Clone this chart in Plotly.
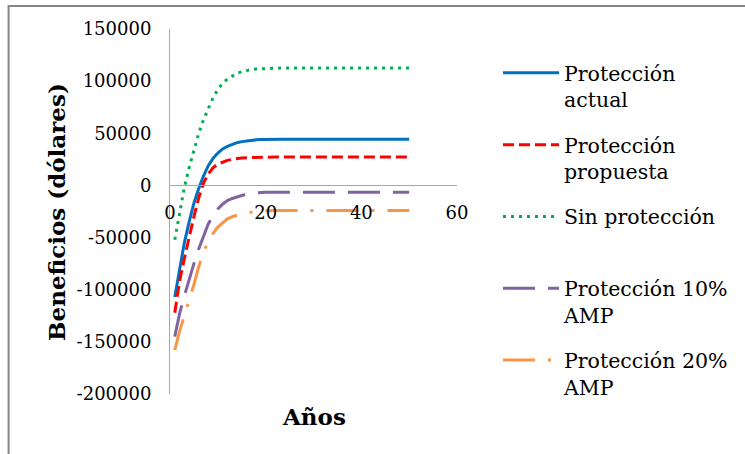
import plotly.graph_objects as go

years = list(range(1, 51))

actual = [-107000, -80000, -55000, -35000, -17000, -3000, 9000, 19000, 26000, 31000,
          35000, 37500, 39500, 41000, 42000, 42800, 43300, 43700, 44000, 44200] + [44300] * 30
propuesta = [-122000, -92000, -70000, -49000, -30000, -12000, 2000, 11000, 17000, 20500,
             22500, 24000, 25000, 25800, 26300, 26600, 26800, 27000, 27100, 27200] + [27200] * 30
sin_prot = [-52000, -25000, -2000, 17000, 33000, 50000, 63000, 74000, 84000, 92000,
            98000, 102000, 105000, 107500, 109000, 110300, 111000, 111700, 112000, 112300] + [112500] * 30
amp10 = [-145000, -123000, -106000, -90000, -75000, -61000, -48000, -37000, -29000, -22500,
         -18000, -14500, -12500, -11000, -9500, -8300, -7500, -7000, -6700, -6500] + [-6500] * 30
amp20 = [-158000, -140000, -125000, -111000, -95000, -78000, -64000, -54000, -46000, -40000,
         -35500, -32000, -30000, -28500, -27200, -26300, -25600, -25000, -24600, -24300] + [-24000] * 30

names = ["Protección<br>actual", "Protección<br>propuesta", "Sin protección<br> ",
         "Protección 10%<br>AMP", "Protección 20%<br>AMP"]
series = [actual, propuesta, sin_prot, amp10, amp20]
colors = ["#0070C0", "#FF0000", "#00B050", "#8064A2", "#F79646"]
dashes = ["solid", "11px,5px", "3px,5px", "32px,13px", "32px,13px,3px,13px"]

x_ticks = [0, 20, 40, 60]
y_ticks = [-200000, -150000, -100000, -50000, 0, 50000, 100000, 150000]

FONT = "DejaVu Serif"

fig = go.Figure()
for i, (nm, ys, c, d) in enumerate(zip(names, series, colors, dashes)):
    fig.add_trace(go.Scatter(x=years, y=ys, mode="lines", name=nm, legendgroup=str(i),
                             line=dict(color=c, width=3, dash=d)))

W, H = 745, 454
ml, mr, mt, mb = 170, 287, 29, 60
pw, ph = W - ml - mr, H - mt - mb
ymin, ymax = -200000, 150000
zero_frac = (0 - ymin) / (ymax - ymin)


def px_x(v):
    return (v - ml) / pw


def px_y(v):
    return (H - mb - v) / ph


fig.update_layout(
    width=W, height=H,
    margin=dict(l=ml, r=mr, t=mt, b=mb),
    paper_bgcolor="white", plot_bgcolor="white",
    font=dict(family=FONT, color="black"),
    showlegend=True,
    legend=dict(x=px_x(498), xanchor="left", y=px_y(53), yanchor="top",
                font=dict(family=FONT, size=20.5, color="black"),
                traceorder="grouped", tracegroupgap=15.5, valign="top", itemwidth=56,
                bgcolor="rgba(0,0,0,0)"),
    xaxis=dict(range=[0, 60], tickvals=x_ticks, ticktext=[str(v) for v in x_ticks],
               showgrid=False, zeroline=False, showline=True, linecolor="#A6A6A6", linewidth=1,
               anchor="free", position=zero_frac, ticks="", ticklabelstandoff=11,
               tickfont=dict(family=FONT, size=18, color="black")),
    yaxis=dict(range=[ymin, ymax], tickvals=y_ticks, ticktext=[str(v) for v in y_ticks],
               showgrid=False, zeroline=False, showline=True, linecolor="#A6A6A6", linewidth=1,
               ticks="", ticklabelstandoff=14,
               tickfont=dict(family=FONT, size=18, color="black")),
    shapes=[
        dict(type="rect", xref="paper", yref="paper",
             x0=px_x(8), x1=px_x(W + 10), y0=px_y(6), y1=px_y(H + 10),
             line=dict(color="#868686", width=2), fillcolor="rgba(0,0,0,0)", layer="below"),
    ],
    annotations=[
        dict(text="<b>Años</b>", xref="paper", yref="paper", x=px_x(315),
             y=px_y(416), xanchor="center", yanchor="middle", showarrow=False,
             font=dict(family=FONT, size=23, color="black")),
        dict(text="<b>Beneficios (dólares)</b>", xref="paper", yref="paper", x=px_x(56),
             y=0.5, xanchor="center", yanchor="middle", textangle=-90, showarrow=False,
             font=dict(family=FONT, size=23, color="black")),
    ],
)

fig.write_html("out.html", config={"displayModeBar": False},
               post_script="document.body.style.margin='0';document.body.style.overflow='hidden';")
